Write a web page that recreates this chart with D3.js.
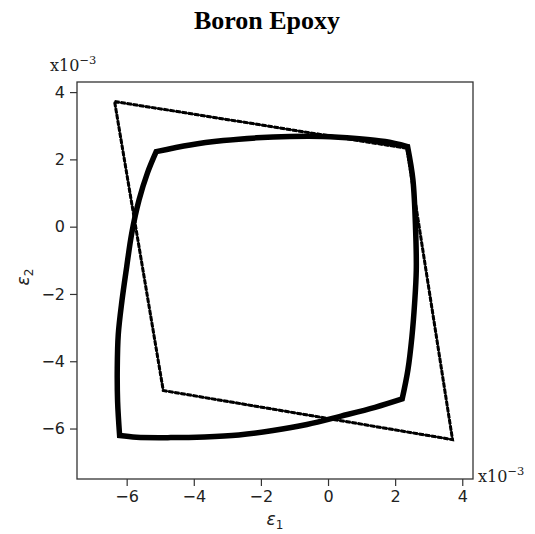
<!DOCTYPE html>
<html>
<head>
<meta charset="utf-8">
<style>
  body { margin: 0; background: #fff; }
  svg { display: block; }
</style>
</head>
<body>
<svg width="535" height="534"></svg>
<script src="https://d3js.org/d3.v7.min.js"></script>
<script>
// tick values (units of 1e-3)
var xTicks = [-6, -4, -2, 0, 2, 4];
var yTicks = [-6, -4, -2, 0, 2, 4];

// dashed envelope: corners, closed
var dashX = [-6.36, 2.35, 3.71, -4.91, -6.36];
var dashY = [3.72, 2.33, -6.33, -4.87, 3.72];

// solid envelope, one curved edge per array (x, y pairs)
var edgeLeft = [[-6.21, -6.21], [-6.27, -5.2], [-6.28, -4.2], [-6.25, -3.2], [-6.14, -2.2],
                [-6.0, -1.2], [-5.85, -0.2], [-5.63, 0.8], [-5.38, 1.6], [-5.12, 2.23]];
var edgeTop = [[-5.12, 2.23], [-4.11, 2.43], [-3.12, 2.56], [-2.13, 2.64], [-1.14, 2.68],
               [-0.15, 2.68], [0.84, 2.62], [1.7, 2.53], [2.37, 2.38]];
var edgeRight = [[2.37, 2.38], [2.53, 1.39], [2.61, -0.10], [2.63, -1.29], [2.58, -2.28],
                 [2.50, -3.27], [2.38, -4.26], [2.21, -5.12]];
var edgeBottom = [[2.21, -5.12], [1.40, -5.37], [0.39, -5.63], [-0.63, -5.88], [-1.64, -6.06],
                  [-2.66, -6.19], [-3.68, -6.25], [-4.69, -6.27], [-5.71, -6.26], [-6.21, -6.21]];

var svg = d3.select("svg");
var padL = 77, padR = 473, padT = 82, padB = 479;

var x = d3.scaleLinear().domain([-7.48, 4.32]).range([padL, padR]);
var y = d3.scaleLinear().domain([-7.5, 4.3]).range([padB, padT]);

// title
svg.append("text")
    .attr("x", 267).attr("y", 29)
    .attr("text-anchor", "middle")
    .style("font-family", "Liberation Serif, Times New Roman, serif")
    .style("font-weight", "bold")
    .style("font-size", "26px")
    .text("Boron Epoxy");

// axes
var fmt = function (d) { return d < 0 ? "\u2212" + Math.abs(d) : d; };
var xAxis = svg.append("g")
    .attr("transform", "translate(0," + padB + ")")
    .call(d3.axisBottom(x).tickValues(xTicks).tickSize(7).tickPadding(5).tickFormat(fmt));
var yAxis = svg.append("g")
    .attr("transform", "translate(" + padL + ",0)")
    .call(d3.axisLeft(y).tickValues(yTicks).tickSize(7).tickPadding(5).tickFormat(fmt));
[xAxis, yAxis].forEach(function (g) {
    g.select(".domain").remove();
    g.selectAll("line").attr("stroke", "#333").attr("stroke-width", 1.2);
    g.selectAll("text")
        .attr("fill", "#222")
        .style("font-family", "DejaVu Sans, sans-serif")
        .style("font-size", "16px");
});

// frame
svg.append("rect")
    .attr("x", padL).attr("y", padT)
    .attr("width", padR - padL).attr("height", padB - padT)
    .attr("fill", "none")
    .attr("stroke", "#333")
    .attr("stroke-width", 1.3);

// dashed envelope
var dashPts = dashX.map(function (d, i) { return [d, dashY[i]]; });
var straight = d3.line().x(function (d) { return x(d[0]); }).y(function (d) { return y(d[1]); });
svg.append("path")
    .attr("d", straight(dashPts))
    .attr("fill", "none")
    .attr("stroke", "#000")
    .attr("stroke-width", 1.8);
svg.append("path")
    .attr("d", straight(dashPts))
    .attr("fill", "none")
    .attr("stroke", "#000")
    .attr("stroke-width", 3)
    .attr("stroke-dasharray", "5,1.2");

// solid envelope: curved edges joined with sharp corners
var curved = d3.line()
    .x(function (d) { return x(d[0]); })
    .y(function (d) { return y(d[1]); })
    .curve(d3.curveCatmullRom.alpha(0.5));
var parts = [edgeLeft, edgeTop, edgeRight, edgeBottom].map(function (e) { return curved(e); });
var dPath = parts[0] + parts.slice(1).map(function (s) { return s.slice(s.indexOf("C")); }).join("") + "Z";
svg.append("path")
    .attr("d", dPath)
    .attr("fill", "none")
    .attr("stroke", "#000")
    .attr("stroke-width", 5.5)
    .attr("stroke-linejoin", "miter");

// exponent labels
function expo(px, py) {
    var t = svg.append("text")
        .attr("x", px).attr("y", py)
        .style("font-family", "DejaVu Serif, serif")
        .style("font-size", "16px")
        .attr("fill", "#222");
    t.append("tspan").text("x10");
    t.append("tspan").attr("dy", -7).style("font-size", "11.5px").text("\u22123");
}
expo(50, 71);
expo(478, 482);

// axis labels
var xl = svg.append("text")
    .attr("x", 275).attr("y", 525)
    .attr("text-anchor", "middle")
    .style("font-family", "DejaVu Sans, sans-serif")
    .style("font-size", "17px")
    .attr("fill", "#222");
xl.append("tspan").style("font-style", "italic").text("\u03b5");
xl.append("tspan").attr("dy", 4).style("font-size", "12px").text("1");

var yl = svg.append("text")
    .attr("transform", "translate(29,277) rotate(-90)")
    .attr("text-anchor", "middle")
    .style("font-family", "DejaVu Sans, sans-serif")
    .style("font-size", "17px")
    .attr("fill", "#222");
yl.append("tspan").style("font-style", "italic").text("\u03b5");
yl.append("tspan").attr("dy", 4).style("font-size", "12px").text("2");
</script>
</body>
</html>
